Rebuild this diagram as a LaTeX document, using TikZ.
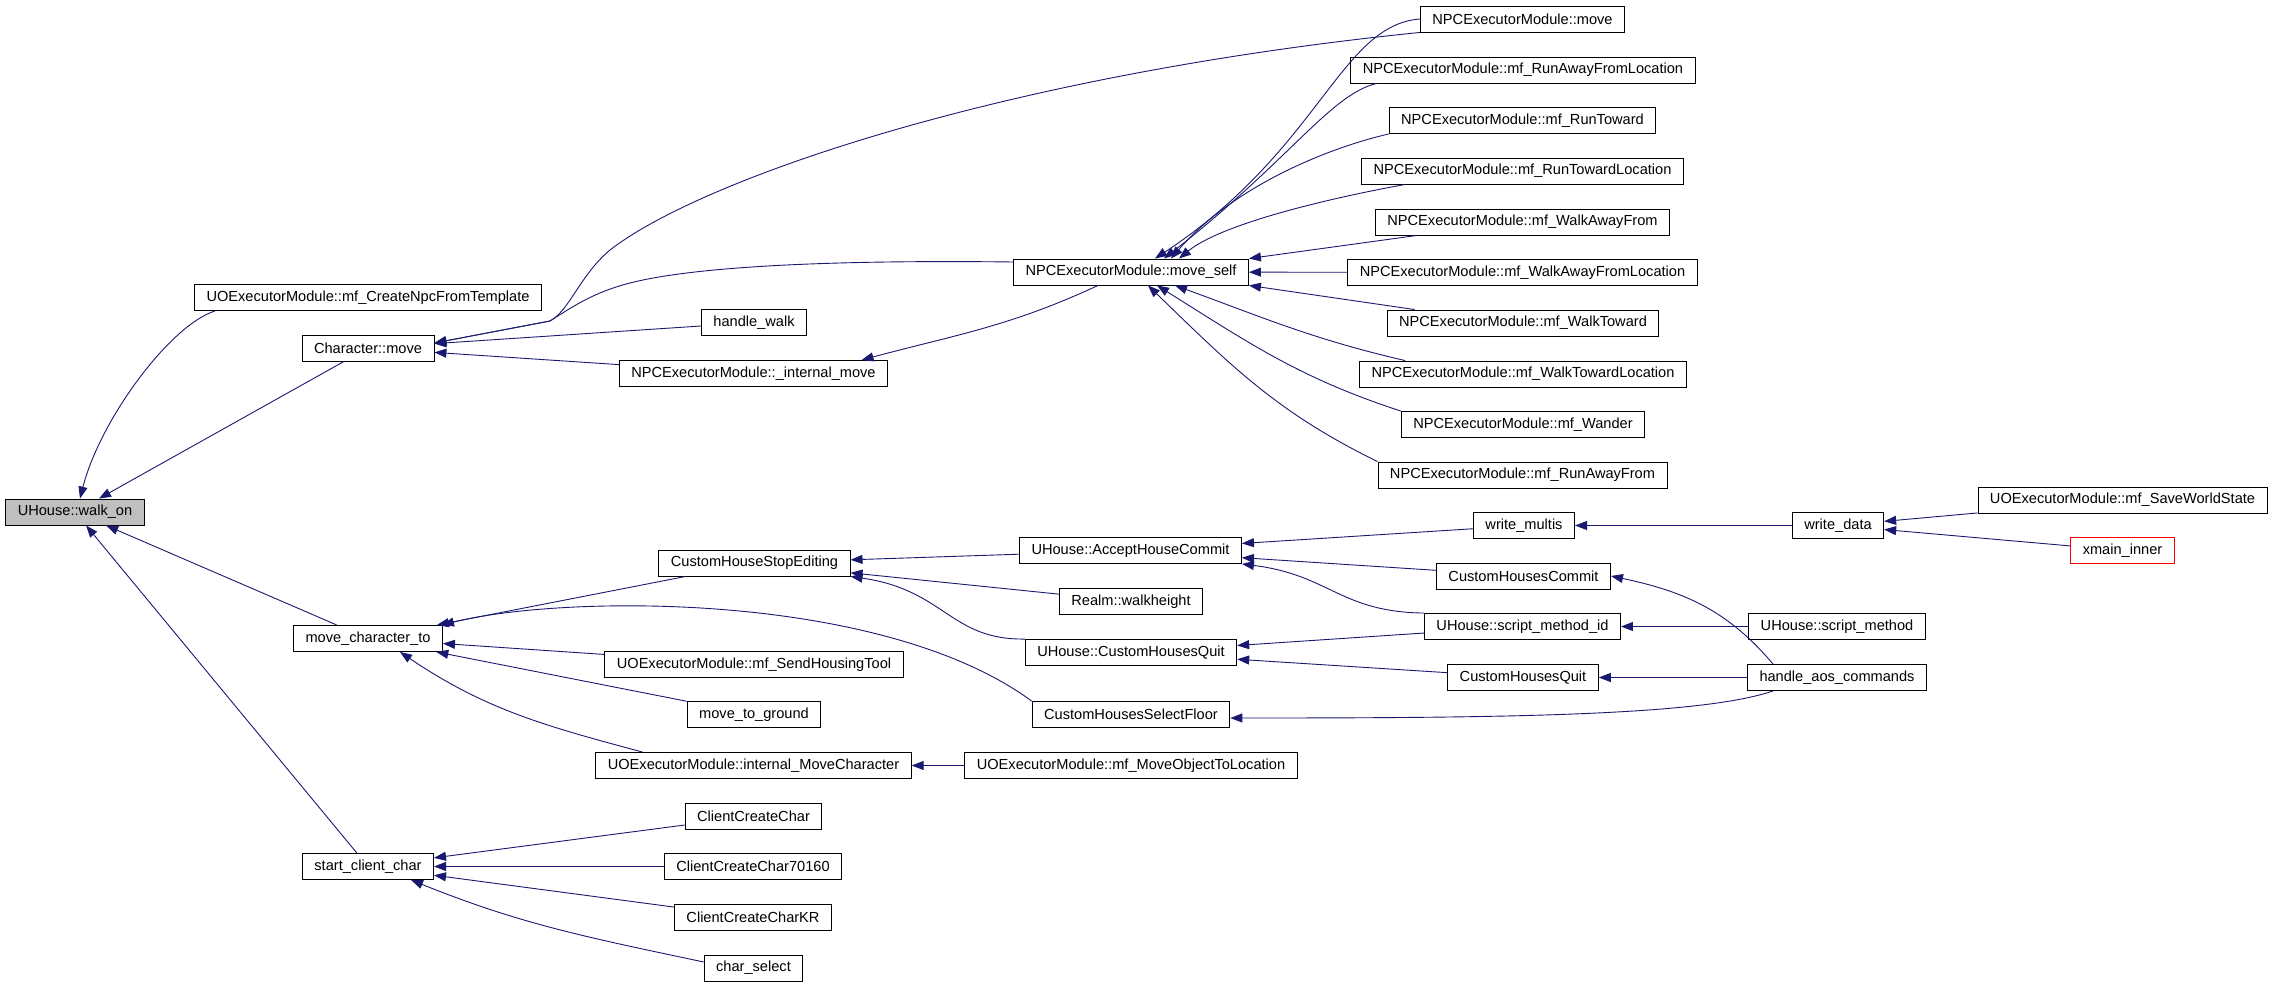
\documentclass[tikz,border=0pt]{standalone}
\usepackage{fontspec}
\setmainfont{Liberation Sans}
\usetikzlibrary{arrows.meta}
\definecolor{edgeblue}{RGB}{25,25,112}
\definecolor{rootgray}{RGB}{191,191,191}

\begin{document}
\begin{tikzpicture}[x=1pt, y=1pt,
		fnode/.style={draw, line width=0.9pt, minimum height=26pt, inner xsep=12pt, inner ysep=0pt, font=\fontsize{14.6}{16}\selectfont},
		calls/.style={draw=edgeblue, line width=0.9pt, -{Triangle[length=12pt, width=9pt]}}]
		\useasboundingbox (0, 0) rectangle (2275, -987);

		\node[fnode, fill=rootgray] (walkon) at (75, -512) {UHouse::walk\_on};

		\node[fnode] (cnpc) at (368, -297.5) {UOExecutorModule::mf\_CreateNpcFromTemplate};
		\draw[calls] ([xshift=21]cnpc.south west) .. controls (170, -325) and (100, -420) .. ([xshift=5]walkon.north);
		\node[fnode] (charmove) at (368, -348) {Character::move};
		\draw[calls] (charmove) -- (walkon);
		\node[fnode] (movecharto) at (368, -638.5) {move\_character\_to};
		\draw[calls] (movecharto) -- (walkon);
		\node[fnode] (startcc) at (368, -866.5) {start\_client\_char};
		\draw[calls] (startcc) -- (walkon);

		\node[fnode] (handlewalk) at (754, -322.5) {handle\_walk};
		\draw[calls] (handlewalk) -- (charmove);
		\node[fnode] (intmove) at (753.5, -373.5) {NPCExecutorModule::\_internal\_move};
		\draw[calls] (intmove) -- (charmove);
		\node[fnode] (stopedit) at (754.5, -563) {CustomHouseStopEditing};
		\draw[calls] (stopedit) -- (movecharto);
		\node[fnode] (sendtool) at (754, -664.5) {UOExecutorModule::mf\_SendHousingTool};
		\draw[calls] (sendtool) -- (movecharto);
		\node[fnode] (movetoground) at (754, -714.5) {move\_to\_ground};
		\draw[calls] (movetoground) -- (movecharto);
		\node[fnode] (intmovechar) at (753.5, -765.5) {UOExecutorModule::internal\_MoveCharacter};
		\draw[calls] ([xshift=-111]intmovechar.north) to[out=165, in=-34] ([xshift=32]movecharto.south);
		\node[fnode] (ccc) at (753.5, -816) {ClientCreateChar};
		\draw[calls] (ccc) -- (startcc);
		\node[fnode] (ccc70160) at (753, -866.5) {ClientCreateChar70160};
		\draw[calls] (ccc70160) -- (startcc);
		\node[fnode] (ccckr) at (753, -917.5) {ClientCreateCharKR};
		\draw[calls] (ccckr) -- (startcc);
		\node[fnode] (charselect) at (753.5, -968) {char\_select};
		\draw[calls] ([yshift=6]charselect.west) to[out=168, in=-22] ([xshift=43]startcc.south);

		\node[fnode] (moveself) at (1131, -272) {NPCExecutorModule::move\_self};
		\draw[calls] ([yshift=10]moveself.west) .. controls (850, -260) and (700, -265) .. (630, -283) .. controls (595, -292) and (575, -305) .. (550, -321) -- ([yshift=5]charmove.east);
		\draw[calls] ([xshift=-33]moveself.south) to[out=205, in=15] ([xshift=108]intmove.north);
		\node[fnode] (accept) at (1130.5, -550.5) {UHouse::AcceptHouseCommit};
		\draw[calls] (accept) -- (stopedit);
		\node[fnode] (walkheight) at (1131, -601.5) {Realm::walkheight};
		\draw[calls] (walkheight) -- (stopedit);
		\node[fnode] (uquit) at (1131, -652.5) {UHouse::CustomHousesQuit};
		\draw[calls] (uquit.north west) .. controls (950, -640) and (945, -590) .. (stopedit.south east);
		\node[fnode] (selectfloor) at (1131, -714.5) {CustomHousesSelectFloor};
		\draw[calls] (selectfloor.north west) .. controls (880, -590) and (560, -595) .. ([xshift=-1]movecharto.north east);
		\node[fnode] (moveobj) at (1131, -765.5) {UOExecutorModule::mf\_MoveObjectToLocation};
		\draw[calls] (moveobj) -- (intmovechar);

		\node[fnode] (npcmove) at (1522.5, -19) {NPCExecutorModule::move};
		\draw[calls] (npcmove.south west) .. controls (1000, -75) and (700, -180) .. (610, -250) .. controls (580, -275) and (570, -310) .. (550, -321) -- ([yshift=5]charmove.east);
		\draw[calls] (npcmove.west) .. controls (1340, -25) and (1320, -150) .. ([xshift=24]moveself.north);
		\node[fnode] (runawayloc) at (1523, -70) {NPCExecutorModule::mf\_RunAwayFromLocation};
		\draw[calls] ([xshift=26]runawayloc.south west) .. controls (1330, -95) and (1290, -160) .. ([xshift=33]moveself.north);
		\node[fnode] (runtoward) at (1522.5, -120.5) {NPCExecutorModule::mf\_RunToward};
		\draw[calls] (runtoward.south west) .. controls (1320, -150) and (1230, -190) .. ([xshift=40]moveself.north);
		\node[fnode] (runtowardloc) at (1522.5, -171) {NPCExecutorModule::mf\_RunTowardLocation};
		\draw[calls] ([xshift=44]runtowardloc.south west) .. controls (1320, -200) and (1220, -225) .. ([xshift=48]moveself.north);
		\node[fnode] (walkaway) at (1522.5, -222) {NPCExecutorModule::mf\_WalkAwayFrom};
		\draw[calls] ([xshift=42]walkaway.south west) -- (moveself.north east);
		\node[fnode] (walkawayloc) at (1522.5, -272.5) {NPCExecutorModule::mf\_WalkAwayFromLocation};
		\draw[calls] (walkawayloc) -- (moveself);
		\node[fnode] (walktoward) at (1523, -323) {NPCExecutorModule::mf\_WalkToward};
		\draw[calls] ([xshift=28]walktoward.north west) -- (moveself.south east);
		\node[fnode] (walktowardloc) at (1523, -374) {NPCExecutorModule::mf\_WalkTowardLocation};
		\draw[calls] ([xshift=46]walktowardloc.north west) to[out=167, in=-20] ([xshift=44]moveself.south);
		\node[fnode] (wander) at (1523, -424.5) {NPCExecutorModule::mf\_Wander};
		\draw[calls] (wander.north west) to[out=162, in=-32] ([xshift=26]moveself.south);
		\node[fnode] (runaway) at (1522.5, -475) {NPCExecutorModule::mf\_RunAwayFrom};
		\draw[calls] (runaway.north west) to[out=154, in=-44] ([xshift=17]moveself.south);
		\node[fnode] (writemultis) at (1524, -525.5) {write\_multis};
		\draw[calls] (writemultis) -- (accept);
		\node[fnode] (commit) at (1523.5, -576) {CustomHousesCommit};
		\draw[calls] (commit) -- (accept);
		\node[fnode] (scriptid) at (1522.5, -626.5) {UHouse::script\_method\_id};
		\draw[calls] (scriptid.north west) .. controls (1340, -612) and (1330, -575) .. (accept.south east);
		\draw[calls] (scriptid) -- (uquit);
		\node[fnode] (chquit) at (1523, -677.5) {CustomHousesQuit};
		\draw[calls] (chquit) -- (uquit);

		\node[fnode] (writedata) at (1838, -525.5) {write\_data};
		\draw[calls] (writedata) -- (writemultis);
		\node[fnode] (scriptmethod) at (1837, -626.5) {UHouse::script\_method};
		\draw[calls] (scriptmethod) -- (scriptid);
		\node[fnode] (aos) at (1837, -677.5) {handle\_aos\_commands};
		\draw[calls] (aos) -- (chquit);
		\draw[calls] ([xshift=-64]aos.north) to[out=130, in=-12] (commit.east);
		\draw[calls] ([xshift=-64]aos.south) .. controls (1700, -716) and (1500, -718) .. ([yshift=-3.5]selectfloor.east);

		\node[fnode] (saveworld) at (2122.5, -500) {UOExecutorModule::mf\_SaveWorldState};
		\draw[calls] (saveworld) -- (writedata);
		\node[fnode, draw=red] (xmain) at (2122.5, -550.5) {xmain\_inner};
		\draw[calls] (xmain) -- (writedata);
	\end{tikzpicture}
\end{document}
